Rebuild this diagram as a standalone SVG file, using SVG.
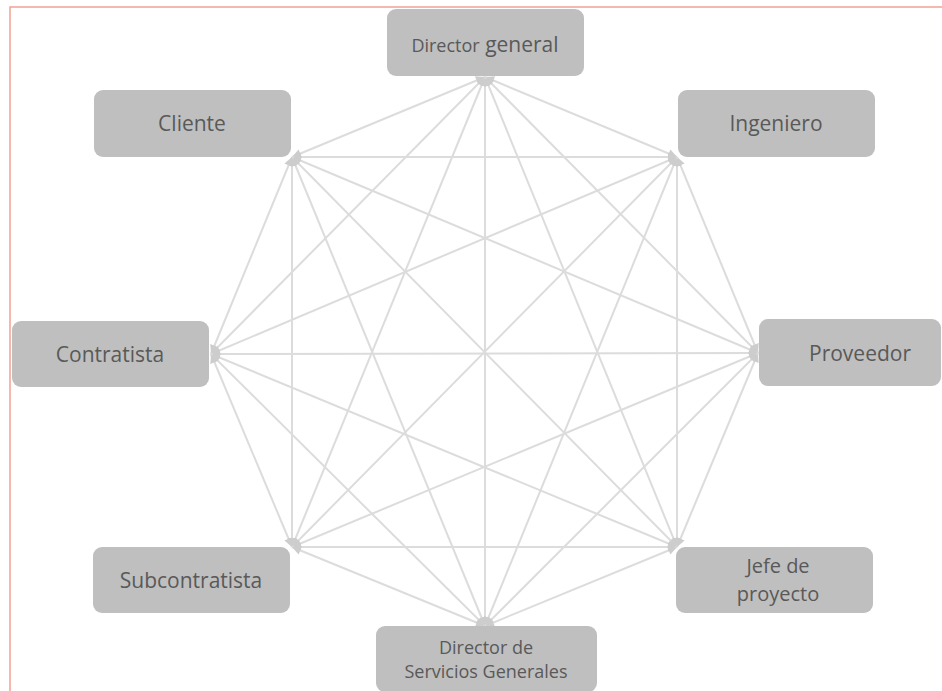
<svg xmlns="http://www.w3.org/2000/svg" width="942" height="691" viewBox="0 0 942 691">
  <style>
    .frame { fill: none; stroke: #F4A191; stroke-width: 1.5; }
    .box { fill: #BFBFBF; }
    .lbl { font-family: "Open Sans", "Liberation Sans", sans-serif; fill: #595959; text-anchor: middle; }
    .edge { stroke: #DCDCDC; stroke-width: 2; fill: none; marker-start: url(#tip); marker-end: url(#tip); }
  </style>
  <defs>
    <marker id="tip" viewBox="0 0 10 10" refX="10" refY="5" markerWidth="10" markerHeight="9" markerUnits="userSpaceOnUse" orient="auto-start-reverse">
      <path d="M0,0 L10,5 L0,10 z" fill="#CDCDCD"/>
    </marker>
  </defs>

  <rect width="942" height="691" fill="#FFFFFF"/>

  <!-- page frame -->
  <path class="frame" d="M10,691 L10,7 L942,7"/>

  <!-- every role linked to every other role -->
  <g id="connectors">
    <!-- Director general -->
    <line class="edge" x1="485" y1="77" x2="677" y2="157"/>
    <line class="edge" x1="485" y1="77" x2="758" y2="353"/>
    <line class="edge" x1="485" y1="77" x2="677" y2="547"/>
    <line class="edge" x1="485" y1="77" x2="485" y2="626"/>
    <line class="edge" x1="485" y1="77" x2="292" y2="547"/>
    <line class="edge" x1="485" y1="77" x2="211" y2="354"/>
    <line class="edge" x1="485" y1="77" x2="292" y2="157"/>
    <!-- Ingeniero -->
    <line class="edge" x1="677" y1="157" x2="758" y2="353"/>
    <line class="edge" x1="677" y1="157" x2="677" y2="547"/>
    <line class="edge" x1="677" y1="157" x2="485" y2="626"/>
    <line class="edge" x1="677" y1="157" x2="292" y2="547"/>
    <line class="edge" x1="677" y1="157" x2="211" y2="354"/>
    <line class="edge" x1="677" y1="157" x2="292" y2="157"/>
    <!-- Proveedor -->
    <line class="edge" x1="758" y1="353" x2="677" y2="547"/>
    <line class="edge" x1="758" y1="353" x2="485" y2="626"/>
    <line class="edge" x1="758" y1="353" x2="292" y2="547"/>
    <line class="edge" x1="758" y1="353" x2="211" y2="354"/>
    <line class="edge" x1="758" y1="353" x2="292" y2="157"/>
    <!-- Jefe de proyecto -->
    <line class="edge" x1="677" y1="547" x2="485" y2="626"/>
    <line class="edge" x1="677" y1="547" x2="292" y2="547"/>
    <line class="edge" x1="677" y1="547" x2="211" y2="354"/>
    <line class="edge" x1="677" y1="547" x2="292" y2="157"/>
    <!-- Director de Servicios Generales -->
    <line class="edge" x1="485" y1="626" x2="292" y2="547"/>
    <line class="edge" x1="485" y1="626" x2="211" y2="354"/>
    <line class="edge" x1="485" y1="626" x2="292" y2="157"/>
    <!-- Subcontratista -->
    <line class="edge" x1="292" y1="547" x2="211" y2="354"/>
    <line class="edge" x1="292" y1="547" x2="292" y2="157"/>
    <!-- Contratista -->
    <line class="edge" x1="211" y1="354" x2="292" y2="157"/>
  </g>

  <g id="director-general">
    <rect class="box" x="387" y="9" width="197" height="67" rx="9"/>
    <text class="lbl" x="485" y="52"><tspan font-size="18">Director</tspan><tspan font-size="21"> general</tspan></text>
  </g>

  <g id="cliente">
    <rect class="box" x="94" y="90" width="197" height="67" rx="9"/>
    <text class="lbl" x="192" y="131" font-size="21">Cliente</text>
  </g>

  <g id="ingeniero">
    <rect class="box" x="678" y="90" width="197" height="67" rx="9"/>
    <text class="lbl" x="776" y="131" font-size="21">Ingeniero</text>
  </g>

  <g id="contratista">
    <rect class="box" x="12" y="321" width="197" height="66" rx="9"/>
    <text class="lbl" x="110" y="362" font-size="21">Contratista</text>
  </g>

  <g id="proveedor">
    <rect class="box" x="759" y="319" width="182" height="67" rx="9"/>
    <text class="lbl" x="860" y="361" font-size="21">Proveedor</text>
  </g>

  <g id="subcontratista">
    <rect class="box" x="93" y="547" width="197" height="66" rx="9"/>
    <text class="lbl" x="191" y="588" font-size="21">Subcontratista</text>
  </g>

  <g id="jefe-de-proyecto">
    <rect class="box" x="676" y="547" width="197" height="66" rx="9"/>
    <text class="lbl" x="778" y="573" font-size="20">Jefe de</text>
    <text class="lbl" x="778" y="601" font-size="20">proyecto</text>
  </g>

  <g id="director-servicios-generales">
    <rect class="box" x="376" y="626" width="221" height="66" rx="9"/>
    <text class="lbl" x="486" y="654" font-size="18">Director de</text>
    <text class="lbl" x="486" y="678" font-size="18">Servicios Generales</text>
  </g>
</svg>
